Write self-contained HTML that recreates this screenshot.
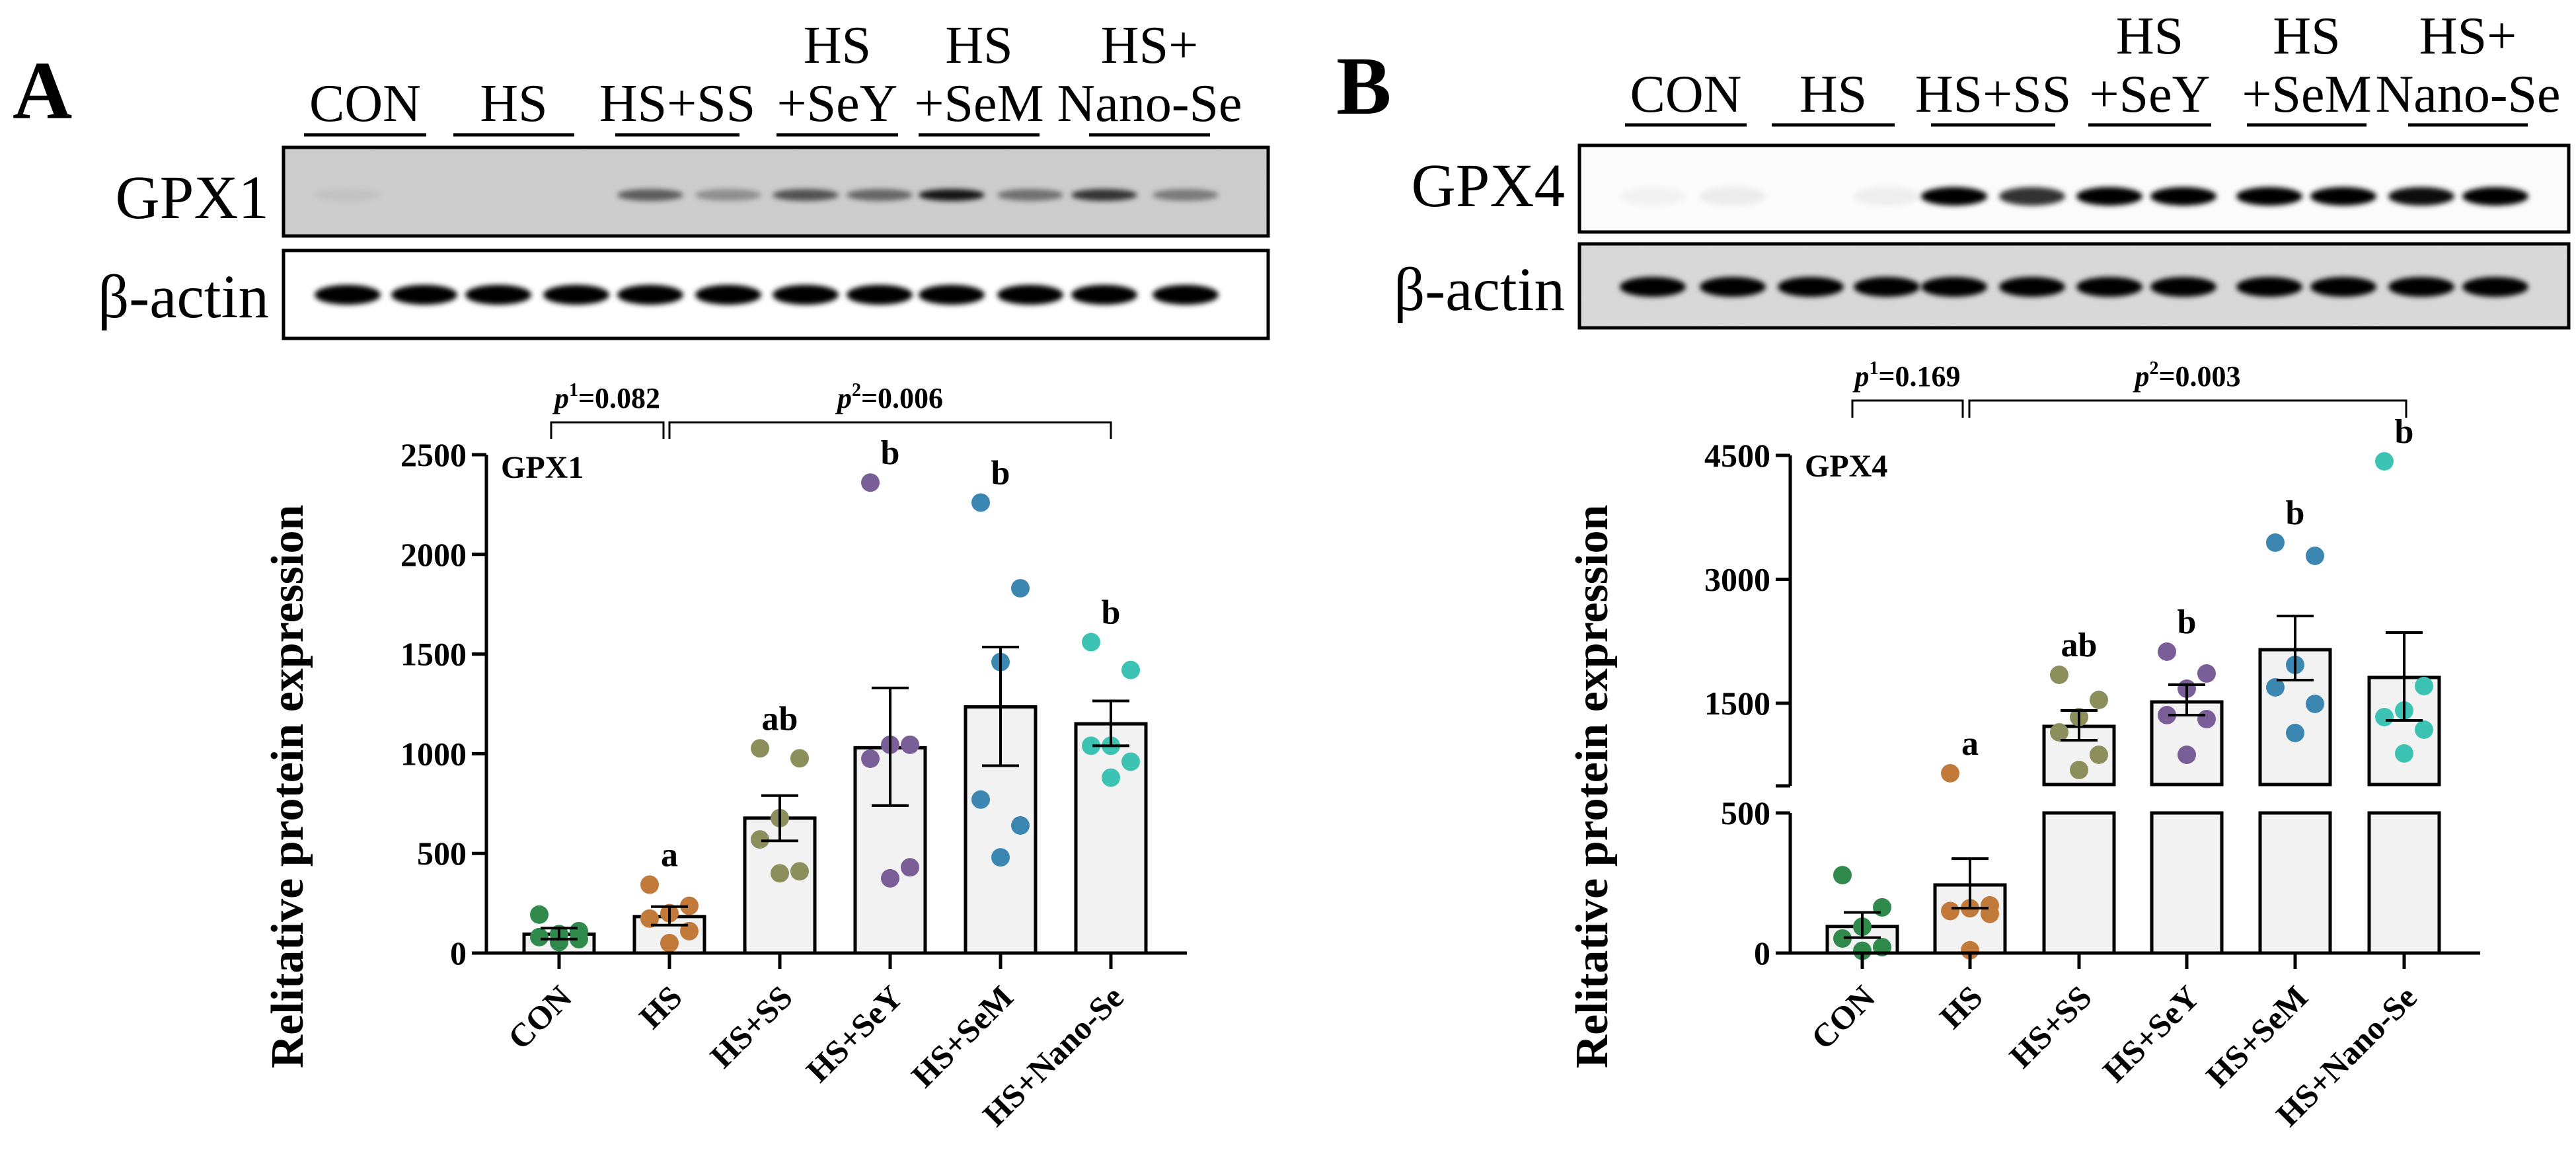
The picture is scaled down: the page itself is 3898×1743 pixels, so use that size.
<!DOCTYPE html>
<html><head><meta charset="utf-8"><style>
html,body{margin:0;padding:0;background:#fff;overflow:hidden}
svg{display:block}
text{font-family:"Liberation Serif",serif}
</style></head><body>
<svg id="fig" width="3898" height="1743" viewBox="0 0 3898 1743" xmlns="http://www.w3.org/2000/svg">
<defs>
<filter id="blur" x="-50%" y="-100%" width="200%" height="300%"><feGaussianBlur stdDeviation="4"/></filter>
<filter id="noise" x="0" y="0" width="1" height="1"><feTurbulence type="fractalNoise" baseFrequency="0.8" numOctaves="2" seed="3"/><feColorMatrix type="matrix" values="0 0 0 0 0.45  0 0 0 0 0.45  0 0 0 0 0.45  0 0 0 0.2 0"/></filter>
</defs>
<g id="root"></g>
</svg>
<script>
const groups = ["CON","HS","HS+SS","HS+SeY","HS+SeM","HS+Nano-Se"];
const colors = ["#2f8a4c","#c27a3b","#8c8f5c","#7a5e98","#3c87b2","#3cc3b3"];
const gpx1Means = [95,183,677,1030,1235,1150];
const gpx1SemHi = [125,233,790,1330,1535,1265];
const gpx1SemLo = [70,140,563,740,940,1040];
const gpx1Points = [[193,110,95,80,70,55],[343,237,200,173,110,50],[1027,977,677,570,410,400],[2360,1045,1045,975,430,375],[2260,1830,1460,770,640,480],[1560,1420,1040,1040,960,880]];
const gpx1Letters = ["","a","ab","b","b","b"];
const gpx1Ticks = [0,500,1000,1500,2000,2500];
const gpx4Means = [95,243,1220,1516,2148,1812];
const gpx4SemHi = [145,337,1412,1724,2556,2356];
const gpx4SemLo = [55,160,1052,1356,1780,1292];
const gpx4Points = [[278,163,94,52,21,8],[652,170,160,150,140,10],[1844,1540,1332,1148,876,692],[2124,1860,1676,1356,1308,876],[3444,3284,1964,1692,1492,1140],[4428,1708,1412,1332,1180,892]];
const gpx4Letters = ["","a","ab","b","b","b"];
const gpx4TicksUpper = [1500,3000,4500];
const gpx4TicksLower = [0,500];
const gpx1Intensity = [0.05,0,0,0,0.55,0.3,0.6,0.5,0.9,0.45,0.75,0.4];
const gpx4Intensity = [0.03,0.06,0,0.05,1,0.8,1,1,1,1,0.95,1];

const NS="http://www.w3.org/2000/svg";
const root=document.getElementById('root');
function el(tag,attrs,parent,txt){const e=document.createElementNS(NS,tag);for(const k in attrs)e.setAttribute(k,attrs[k]);if(txt!==undefined)e.textContent=txt;(parent||root).appendChild(e);return e;}

function panel(opt){
  const g=el('g',{});
  
  
  const L=el('text',{x:opt.letterX,y:opt.letterY,'font-size':125,'font-weight':'bold'},g,opt.letter);
  
  
  opt.headers.forEach((h,i)=>{
    const cx=(h[0]+h[1])/2;
    const ln=el('line',{x1:h[0],x2:h[1],y1:opt.hdrLineY,y2:opt.hdrLineY,stroke:'#000','stroke-width':5},g);
    
    
    const lines=opt.hdrText[i];
    lines.forEach((t,j)=>{
      const y=opt.hdrBase-(lines.length-1-j)*88;
      const tx=el('text',{x:cx,y:y,'font-size':80,'text-anchor':'middle'},g,t);
      
      
    });
  });
  [[opt.blot1,opt.prot,opt.int1,opt.bg1,opt.noisy1,opt.band1Y,opt.lab1Y],[opt.blot2,'β-actin',null,opt.bg2,opt.noisy2,opt.band2Y,opt.lab2Y]].forEach((b,bi)=>{
    const [box,label,ints,bg,noisy,bandY,labY]=b;
    const r=el('rect',{x:box[0],y:box[1],width:box[2]-box[0],height:box[3]-box[1],fill:bg},g);
    
    
    if(noisy){el('rect',{x:box[0],y:box[1],width:box[2]-box[0],height:box[3]-box[1],filter:'url(#noise)'},g);}
    opt.lanes.forEach((lx,i)=>{
      const a=ints?ints[i]:1;
      if(a<=0)return;
      const e=el('ellipse',{cx:lx,cy:bandY,rx:50,ry:bi===0?opt.band1Ry:15,fill:'#000','fill-opacity':a,filter:'url(#blur)'},g);
      
      
    });
    el('rect',{x:box[0],y:box[1],width:box[2]-box[0],height:box[3]-box[1],fill:'none',stroke:'#000','stroke-width':5},g);
    const t=el('text',{x:box[0]-22,y:labY,'font-size':93,'text-anchor':'end'},g,label);
    
    
  });
}

panel({name:'panel-a',letter:'A',letterX:19,letterY:179,
  headers:[[460,645],[686,869],[931,1119],[1175,1359],[1390,1573],[1648,1831]],
  hdrText:[["CON"],["HS"],["HS+SS"],["HS","+SeY"],["HS","+SeM"],["HS+","Nano-Se"]],
  hdrLineY:204,hdrBase:183,blot1:[429,223,1919,357],blot2:[429,379,1919,512],prot:'GPX1',
  int1:gpx1Intensity,bg1:'#cfcfcf',noisy1:true,bg2:'#ffffff',noisy2:false,band1Y:295,band1Ry:9,band2Y:446,lab1Y:330,lab2Y:480,
  lanes:[526,642,754,872,984,1102,1219,1331,1440,1559,1671,1794]});
panel({name:'panel-b',letter:'B',letterX:2022,letterY:172,
  headers:[[2459,2643],[2681,2867],[2922,3110],[3160,3346],[3400,3581],[3644,3825]],
  hdrText:[["CON"],["HS"],["HS+SS"],["HS","+SeY"],["HS","+SeM"],["HS+","Nano-Se"]],
  hdrLineY:189,hdrBase:169,blot1:[2390,220,3887,351],blot2:[2390,369,3887,496],prot:'GPX4',
  int1:gpx4Intensity,bg1:'#fbfbfb',noisy1:false,bg2:'#dcdcdc',noisy2:true,band1Y:297,band1Ry:14,band2Y:434,lab1Y:312,lab2Y:469,
  lanes:[2501,2622,2740,2855,2957,3075,3192,3304,3434,3546,3664,3776]});

function chart(o){
  const g=el('g',{});
  
  
  const BW=106;
  o.means.forEach((m,i)=>{
    const cx=o.xs[i];
    o.barSegs(m).forEach(s=>{
      const r=el('rect',{x:cx-BW/2,y:s[0],width:BW,height:s[1]-s[0],fill:'#f2f2f2',stroke:'#000','stroke-width':5},g);
      
      
    });
  });
  o.points.forEach((ps,i)=>{
    ps.forEach((v,j)=>{
      const off=[-30,30,0,-30,30,0][j];
      const c=el('circle',{cx:o.xs[i]+off,cy:o.y(v),r:14,fill:colors[i]},g);
      
      
    });
  });
  o.means.forEach((m,i)=>{
    const cx=o.xs[i],yh=o.y(o.hi[i]),yl=o.y(o.lo[i]);
    const p=el('path',{d:`M${cx},${yl}V${yh}M${cx-28},${yh}H${cx+28}M${cx-28},${yl}H${cx+28}`,stroke:'#000','stroke-width':4,fill:'none'},g);
    
    
    if(o.letters[i]){
      const top=Math.min(o.y(Math.max(...o.points[i])),yh);
      const t=el('text',{x:cx,y:top-28,'font-size':52,'font-weight':'bold','text-anchor':'middle'},g,o.letters[i]);
      
      
    }
  });
  o.axisSegs.forEach(s=>{
    const l=el('line',{x1:o.ax,x2:o.ax,y1:s[0],y2:s[1],stroke:'#000','stroke-width':5},g);
    
    
  });
  const xa=el('line',{x1:o.ax-2,x2:o.axEnd,y1:o.y0,y2:o.y0,stroke:'#000','stroke-width':5},g);
  
  
  o.ticks.forEach(v=>{
    const y=o.y(v);
    el('line',{x1:o.ax-22,x2:o.ax,y1:y,y2:y,stroke:'#000','stroke-width':5},g);
    const t=el('text',{x:o.ax-30,y:y+17,'font-size':50,'font-weight':'bold','text-anchor':'end'},g,String(v));
    
    
  });
  (o.extraTicks||[]).forEach(y=>{el('line',{x1:o.ax-22,x2:o.ax,y1:y,y2:y,stroke:'#000','stroke-width':5},g);});
  groups.forEach((gname,i)=>{
    const cx=o.xs[i];
    el('line',{x1:cx,x2:cx,y1:o.y0,y2:o.y0+24,stroke:'#000','stroke-width':5},g);
    const ax=cx+22, ay=o.y0+70;
    const t=el('text',{x:ax,y:ay,'font-size':50,'font-weight':'bold','text-anchor':'end',transform:`rotate(-45 ${ax} ${ay})`},g,gname);
    
    
  });
  const yt=el('text',{x:o.titleX,y:o.titleY,'font-size':70,'font-weight':'bold','text-anchor':'middle',transform:`rotate(-90 ${o.titleX} ${o.titleY})`},g,'Relitative protein expression');
  
  
  const ct=el('text',{x:o.ax+22,y:o.labelY,'font-size':48,'font-weight':'bold'},g,o.prot);
  
  
  o.brackets.forEach(b=>{
    const p=el('path',{d:`M${b[0]},${b[3]}V${b[2]}H${b[1]}V${b[3]}`,stroke:'#000','stroke-width':3,fill:'none'},g);
    
    
    const t=el('text',{x:(b[0]+b[1])/2,y:b[2]-22,'font-size':44,'font-weight':'bold','text-anchor':'middle'},g);
    
    
    el('tspan',{'font-style':'italic'},t,'p');
    el('tspan',{dy:-18,'font-size':28},t,b[4]);
    el('tspan',{dy:18},t,'='+b[5]);
  });
}

const yA=v=>1442-v*0.3016;
chart({name:'chart-gpx1',prot:'GPX1',xs:[846,1013,1180,1347,1514,1681],y:yA,y0:1442,ax:736,axEnd:1796,
  means:gpx1Means,hi:gpx1SemHi,lo:gpx1SemLo,points:gpx1Points,letters:gpx1Letters,ticks:gpx1Ticks,
  barSegs:m=>[[yA(m),1442]],axisSegs:[[yA(2500),1442]],titleX:458,titleY:1190,labelY:723,
  brackets:[[834,1004,639,664,'1','0.082'],[1013,1681,639,664,'2','0.006']]});

const yB=v=>v<=500?1442-v/500*212:1189-(v-500)*0.125;
chart({name:'chart-gpx4',prot:'GPX4',xs:[2818,2981,3146,3309,3473,3638],y:yB,y0:1442,ax:2709,axEnd:3753,
  means:gpx4Means,hi:gpx4SemHi,lo:gpx4SemLo,points:gpx4Points,letters:gpx4Letters,ticks:gpx4TicksLower.concat(gpx4TicksUpper),
  barSegs:m=>m<=500?[[yB(m),1442]]:[[yB(m),1187],[1230,1442]],axisSegs:[[1230,1442],[yB(4500),1189]],extraTicks:[1189],
  titleX:2432,titleY:1190,labelY:721,
  brackets:[[2803,2970,606,632,'1','0.169'],[2980,3641,606,632,'2','0.003']]});
</script>
</body></html>
